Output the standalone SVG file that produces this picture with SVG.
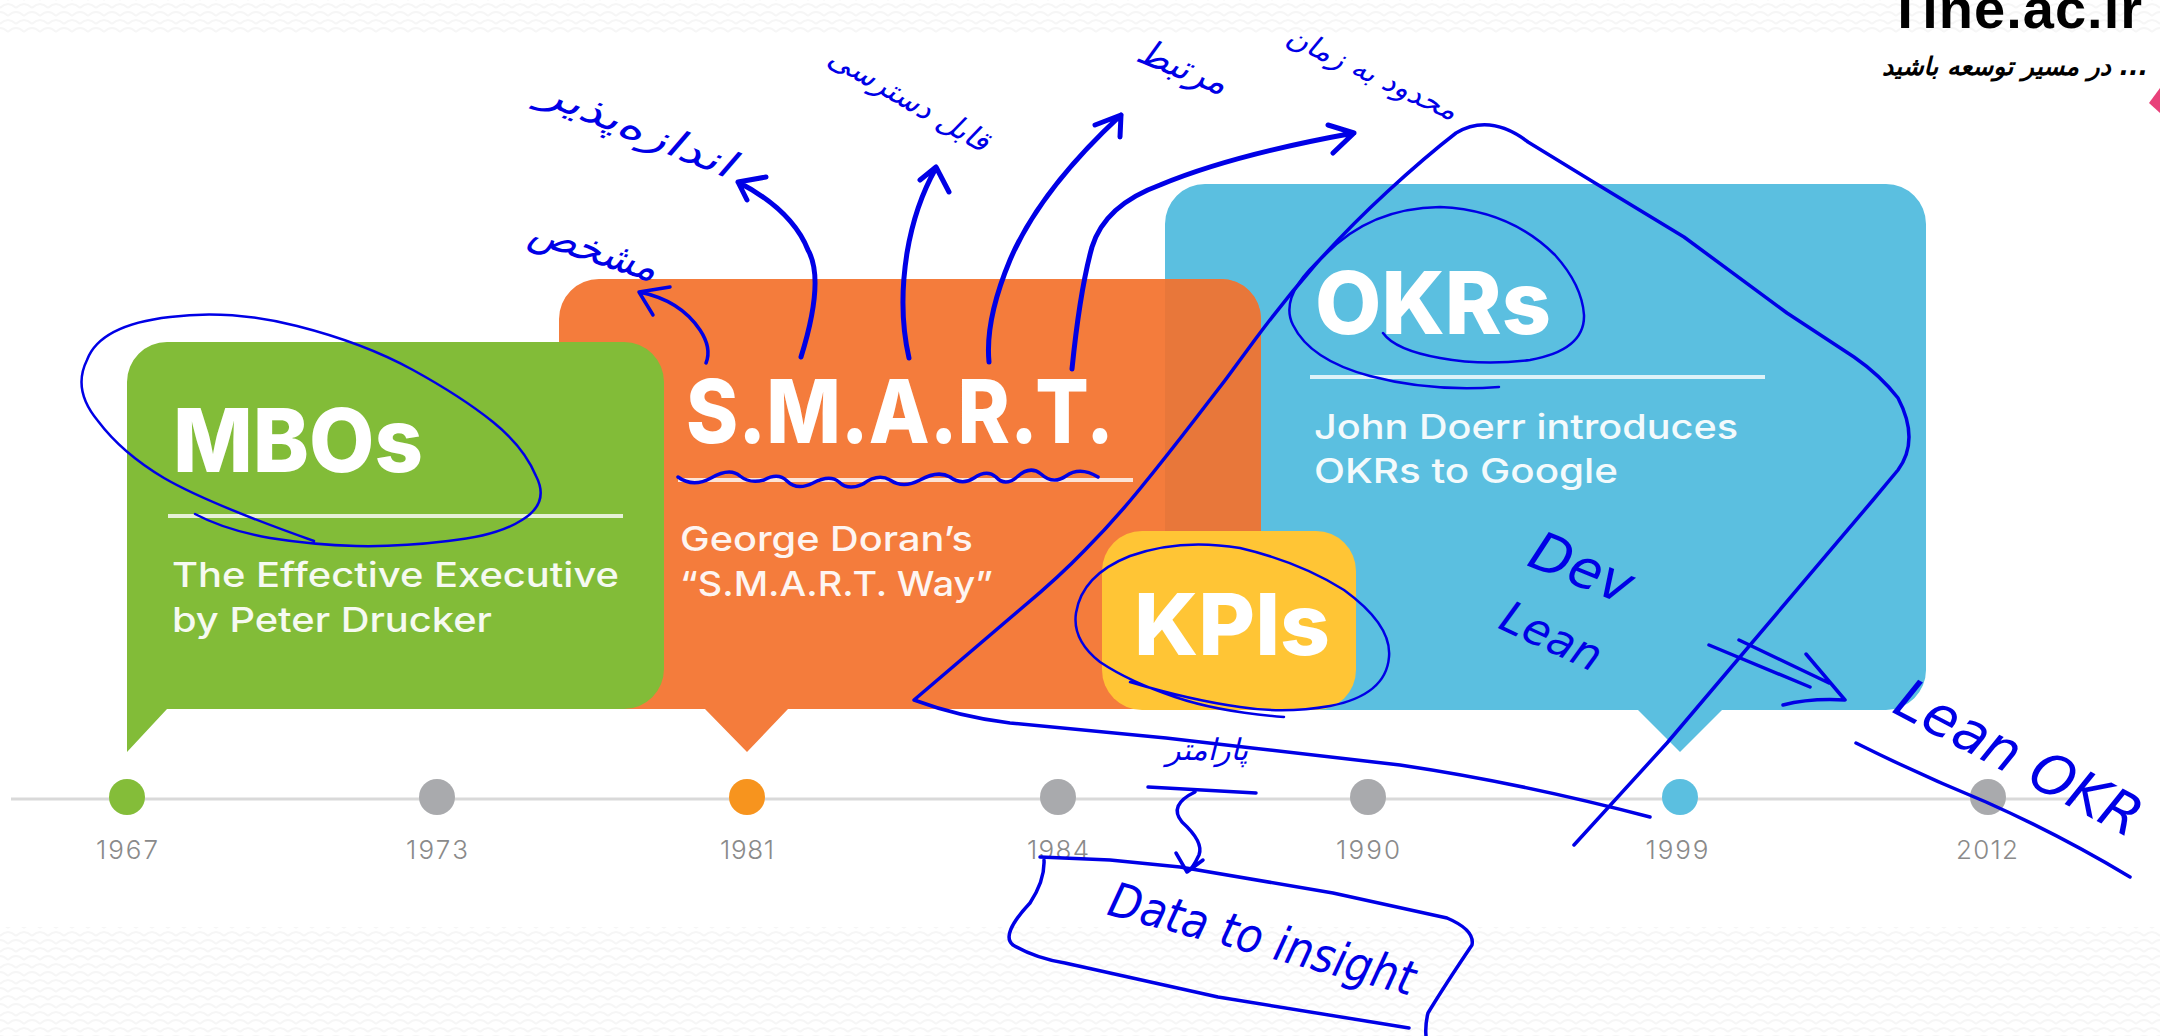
<svg xmlns="http://www.w3.org/2000/svg" width="2160" height="1036" viewBox="0 0 2160 1036">
<style>
.title{font-family:"Inter","Liberation Sans",sans-serif;font-weight:800;fill:#fff}
.sub{font-family:"Inter","Liberation Sans",sans-serif;font-weight:500;font-size:34px;fill:#fff;opacity:.93}
.rule{stroke:#fff;stroke-width:4;opacity:.8}
.yr{font-family:"Inter","Liberation Sans",sans-serif;font-weight:300;font-size:26px;fill:#8a8a8a;text-anchor:middle}
.ink{fill:none;stroke:#0000e6;stroke-linecap:round;stroke-linejoin:round;stroke-width:3.5}
.thin{stroke-width:2.5}
.thick{stroke-width:5}
.fa{font-family:"DejaVu Sans","Noto Sans",sans-serif;font-style:italic;fill:#0000e6;text-anchor:middle}
.hand{font-family:"DejaVu Sans","Noto Sans",sans-serif;font-style:oblique;fill:#0000e6;text-anchor:middle}
</style>
<defs>
<pattern id="scale" width="16" height="16" patternUnits="userSpaceOnUse">
<path d="M0 8 Q8 0 16 8 M-8 16 Q0 8 8 16 M8 16 Q16 8 24 16 M-8 0 Q0 -8 8 0 M8 0 Q16 -8 24 0" fill="none" stroke="#f6f6f6" stroke-width="2"/>
</pattern>
</defs>
<rect width="2160" height="1036" fill="#fff"/>
<rect width="2160" height="33" fill="url(#scale)"/>
<rect y="927" width="2160" height="109" fill="url(#scale)"/>

<g id="logo">
<polygon points="2149,103 2160,88 2160,113" fill="#e8417a"/>
<text x="1888" y="28" font-family="Liberation Sans, sans-serif" font-weight="700" font-size="56" textLength="254" lengthAdjust="spacing" fill="#000">Tine.ac.ir</text>
<text x="2015" y="75" font-family="DejaVu Sans, sans-serif" font-weight="700" font-style="italic" font-size="25" text-anchor="middle" fill="#000">در مسیر توسعه باشید ...</text>
</g>

<g id="timeline">
<line x1="11" y1="799" x2="2076" y2="799" stroke="#d9d9d9" stroke-width="3"/>
<circle cx="127" cy="797" r="18" fill="#84bd39"/>
<circle cx="437" cy="797" r="18" fill="#a9aaad"/>
<circle cx="747" cy="797" r="18" fill="#f7941e"/>
<circle cx="1058" cy="797" r="18" fill="#a9aaad"/>
<circle cx="1368" cy="797" r="18" fill="#a9aaad"/>
<circle cx="1680" cy="797" r="18" fill="#5bbfe0"/>
<circle cx="1988" cy="797" r="18" fill="#a9aaad"/>
<text class="yr" x="127" y="859" textLength="62">1967</text>
<text class="yr" x="437" y="859" textLength="62">1973</text>
<text class="yr" x="747" y="859" textLength="54">1981</text>
<text class="yr" x="1058" y="859" textLength="62">1984</text>
<text class="yr" x="1368" y="859" textLength="64">1990</text>
<text class="yr" x="1677" y="859" textLength="63">1999</text>
<text class="yr" x="1987" y="859" textLength="62">2012</text>
</g>

<g id="okrs">
<path d="M1205 184H1886a40 40 0 0 1 40 40V670a40 40 0 0 1 -40 40H1722L1680 752L1638 710H1165V224a40 40 0 0 1 40 -40Z" fill="#5bbfe0"/>
<text class="title" x="1315" y="334" font-size="86" textLength="236" lengthAdjust="spacingAndGlyphs">OKRs</text>
<line class="rule" x1="1310" y1="377" x2="1765" y2="377"/>
<text class="sub" x="1314" y="439" textLength="424" lengthAdjust="spacingAndGlyphs">John Doerr introduces</text>
<text class="sub" x="1314" y="483" textLength="304" lengthAdjust="spacingAndGlyphs">OKRs to Google</text>
</g>

<g id="smart">
<path d="M599 279H1221a40 40 0 0 1 40 40V669a40 40 0 0 1 -40 40H788L747 752L705 709H599a40 40 0 0 1 -40 -40V319a40 40 0 0 1 40 -40Z" fill="#f47c3c"/>
<path d="M1165 279H1221a40 40 0 0 1 40 40V540H1165Z" fill="#e8773a"/>
<text class="title" x="686" y="443" font-size="88" textLength="428" lengthAdjust="spacingAndGlyphs">S.M.A.R.T.</text>
<line class="rule" x1="678" y1="480" x2="1133" y2="480"/>
<text class="sub" x="680" y="551" textLength="293" lengthAdjust="spacingAndGlyphs">George Doran’s</text>
<text class="sub" x="680" y="596" textLength="313" lengthAdjust="spacingAndGlyphs">“S.M.A.R.T. Way”</text>
</g>

<g id="mbos">
<path d="M167 342H624a40 40 0 0 1 40 40V669a40 40 0 0 1 -40 40H167L127 752V382a40 40 0 0 1 40 -40Z" fill="#82bc38"/>
<text class="title" x="173" y="472" font-size="88" textLength="250" lengthAdjust="spacingAndGlyphs">MBOs</text>
<line class="rule" x1="168" y1="516" x2="623" y2="516"/>
<text class="sub" x="172" y="587" textLength="447" lengthAdjust="spacingAndGlyphs">The Effective Executive</text>
<text class="sub" x="172" y="632" textLength="320" lengthAdjust="spacingAndGlyphs">by Peter Drucker</text>
</g>

<g id="kpis">
<rect x="1102" y="531" width="254" height="179" rx="40" fill="#ffc535"/>
<text class="title" x="1134" y="655" font-size="85" textLength="196" lengthAdjust="spacingAndGlyphs">KPIs</text>
</g>

<g id="connectors">
<path class="ink thin" d="M195 514Q225 530 270 538Q314 545 356 546Q399 547 448 541Q497 536 522 520Q550 503 536 476Q524 447 493 422Q462 397 413 370Q364 343 297 326Q230 309 170 317Q100 325 87 360Q72 390 98 421Q122 453 164 478Q207 503 314 541"/>
<path class="ink thin" d="M1383 333Q1395 350 1440 358Q1483 366 1530 360Q1585 350 1584 315Q1582 285 1555 255Q1510 210 1440 207Q1370 208 1325 255Q1278 295 1293 325Q1310 360 1370 376Q1430 392 1499 387"/>
<path class="ink thin" d="M1284 717Q1219 712 1175 697Q1130 682 1100 662Q1072 640 1076 613Q1082 575 1130 556Q1180 538 1240 548Q1300 562 1344 590Q1392 625 1389 657Q1386 695 1330 706Q1284 714 1240 707Q1190 700 1130 682"/>
<path class="ink" d="M1574 845L1667 743L1873 500L1898 470Q1920 440 1898 398Q1880 375 1854 357L1787 313L1684 237L1595 183L1528 142Q1490 113 1456 133Q1425 157 1387 192Q1349 227 1315 265Q1282 303 1254 341Q1226 380 1196 418Q1166 457 1139 490Q1112 523 1085 550Q1059 577 1023 607L914 700Q960 717 1010 723L1166 738L1252 748L1400 765Q1521 783 1650 817"/>
<path class="ink" d="M678 477Q693 488 711 478Q730 467 740 476Q750 484 764 480Q778 472 787 481Q797 491 813 483Q830 474 839 482Q848 491 863 484Q878 473 890 480Q903 489 920 480Q938 470 950 477Q962 486 974 478Q987 469 996 477Q1005 487 1017 477Q1030 465 1041 474Q1053 485 1066 476Q1080 466 1098 477"/>
<path class="ink" d="M706 363Q712 348 700 330Q680 300 639 292M670 287L639 292L653 315"/>
<path class="ink thick" d="M801 357Q825 280 808 250Q792 210 738 182M766 177L738 182L747 200"/>
<path class="ink thick" d="M909 358Q898 310 907 253Q915 205 936 168M920 180L936 167L949 192"/>
<path class="ink thick" d="M989 362Q985 320 1010 260Q1040 190 1121 115M1095 125L1121 115L1120 137"/>
<path class="ink thick" d="M1072 369Q1080 290 1092 247Q1105 205 1160 185Q1232 155 1354 133M1328 125L1354 133L1333 153"/>
<path class="ink" d="M1709 645L1810 687M1739 640L1829 683M1806 654L1845 700Q1810 698 1783 705"/>
<path class="ink" d="M1856 743Q1920 775 1986 802Q2060 835 2130 877"/>
<path class="ink" d="M1148 787L1256 793M1195 792Q1168 805 1182 822Q1204 842 1199 855Q1192 870 1187 872M1176 853L1187 872L1203 860"/>
<path class="ink" d="M1040 857L1110 860L1180 867L1333 893L1447 918Q1475 930 1472 945Q1445 985 1428 1013Q1425 1025 1426 1036M1044 860Q1045 880 1030 903Q1000 935 1013 945Q1035 958 1065 963L1218 997L1409 1028"/>
<text class="fa" font-size="40" transform="translate(590 262) rotate(18)">مشخص</text>
<text class="fa" font-size="38" textLength="205" lengthAdjust="spacingAndGlyphs" transform="translate(632 140) rotate(22)">اندازه‌پذیر</text>
<text class="fa" font-size="30" textLength="180" lengthAdjust="spacingAndGlyphs" transform="translate(904 108) rotate(30)">قابل دسترسی</text>
<text class="fa" font-size="36" transform="translate(1178 78) rotate(22)">مرتبط</text>
<text class="fa" font-size="28" textLength="185" lengthAdjust="spacingAndGlyphs" transform="translate(1368 82) rotate(25)">محدود به زمان</text>
<text class="fa" font-size="30" transform="translate(1207 760)">پارامتر</text>
<text class="hand" font-size="48" textLength="315" lengthAdjust="spacingAndGlyphs" transform="translate(1258 955) rotate(15)">Data to insight</text>
<text class="hand" font-size="54" transform="translate(1575 585) rotate(22)">Dev</text>
<text class="hand" font-size="44" transform="translate(1545 650) rotate(25)">Lean</text>
<text class="hand" font-size="56" textLength="270" lengthAdjust="spacingAndGlyphs" transform="translate(2010 775) rotate(28)">Lean OKR</text>
</g>
</svg>
